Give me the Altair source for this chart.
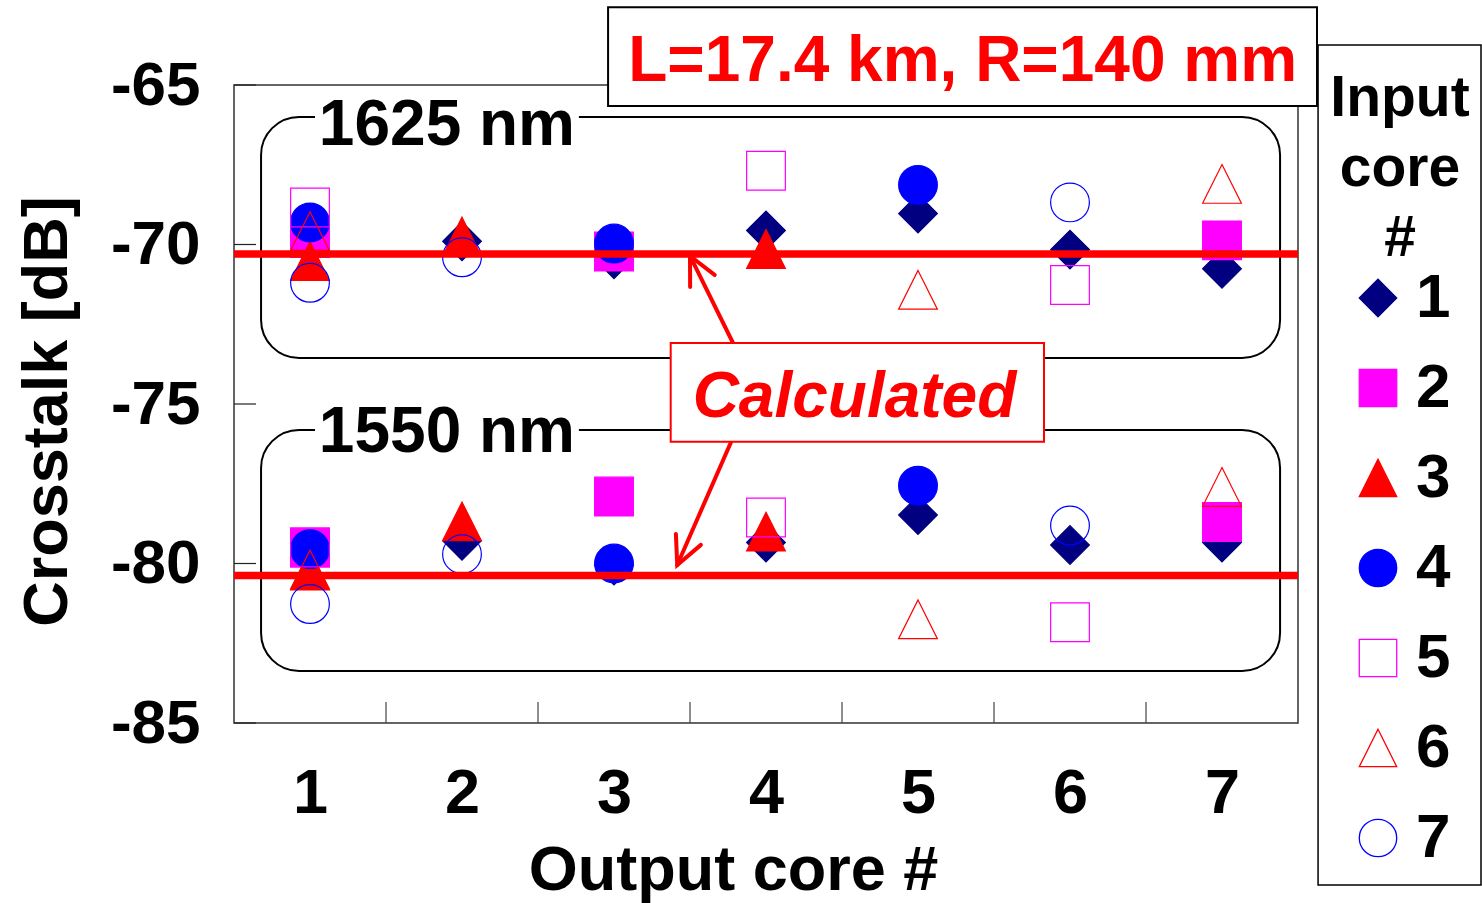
import altair as alt
import pandas as pd

# ---------------- data ----------------
output_cores = [1, 2, 3, 4, 5, 6, 7]
input_labels = ["1", "2", "3", "4", "5", "6", "7"]

# Crosstalk [dB] at 1625 nm, one list per input core, values per output core 1..7
in1_1625 = [None, -69.90, -70.46, -69.56, -69.03, -70.16, -70.76]
in2_1625 = [-69.80, None, -70.22, None, None, None, -69.87]
in3_1625 = [-70.52, -69.75, None, -70.14, None, None, None]
in4_1625 = [-69.31, None, -69.97, None, -68.13, None, None]
in5_1625 = [-68.84, None, None, -67.69, None, -71.27, None]
in6_1625 = [-69.58, None, None, None, -71.42, None, -68.10]
in7_1625 = [-71.20, -70.40, None, None, None, -68.68, None]

# Crosstalk [dB] at 1550 nm
in1_1550 = [None, -79.29, -80.06, -79.34, -78.48, -79.42, -79.34]
in2_1550 = [-79.50, None, -77.90, None, None, None, -78.70]
in3_1550 = [-80.22, -78.68, None, -79.00, None, None, None]
in4_1550 = [-79.55, None, -80.00, None, -77.56, None, None]
in5_1550 = [-79.50, None, None, -78.56, None, -81.84, None]
in6_1550 = [-80.19, None, None, None, -81.75, None, -77.60]
in7_1550 = [-81.27, -79.71, None, None, None, -78.81, None]

# calculated crosstalk levels [dB]
calc_levels = [-70.30, -80.38]

y_tick_values = [-85, -80, -75, -70, -65]
x_boundaries = [1.5, 2.5, 3.5, 4.5, 5.5, 6.5]
legend_title_lines = ["Input", "core", "#"]

# ---------------- build table ----------------
series_1625 = [in1_1625, in2_1625, in3_1625, in4_1625, in5_1625, in6_1625, in7_1625]
series_1550 = [in1_1550, in2_1550, in3_1550, in4_1550, in5_1550, in6_1550, in7_1550]
rows = []
for i, lab in enumerate(input_labels):
    for ser in (series_1625[i], series_1550[i]):
        for oc, v in zip(output_cores, ser):
            if v is not None:
                rows.append({"output": oc, "input": lab, "order": i, "xt": v})
df = pd.DataFrame(rows).sort_values("order", kind="stable")

FONT = "Liberation Sans"
TRI = "M0,-1L1,1L-1,1Z"
shape_range = ["diamond", "square", TRI, "circle", "square", TRI, "circle"]
fill_range = ["#000080", "#FF00FF", "#FF0000", "#0000FF", "transparent", "transparent", "transparent"]
stroke_range = ["#000080", "#FF00FF", "#FF0000", "#0000FF", "#FF00FF", "#FF0000", "#0000FF"]

xscale = alt.Scale(domain=[0.5, 7.5], nice=False, zero=False)
yscale = alt.Scale(domain=[-85, -65], nice=False, zero=False)

xaxis = alt.Axis(values=output_cores, labelExpr="datum.value + ''", ticks=False, domain=False,
                 grid=False, labelFont=FONT, labelFontSize=63, labelFontWeight="bold",
                 labelColor="black", labelPadding=39, labelAngle=0,
                 title="Output core #", titleFont=FONT, titleFontSize=63, titleFontWeight="bold",
                 titleColor="black", titleX=499, titleY=116, titleAlign="center", titleBaseline="top")
yaxis = alt.Axis(values=y_tick_values, labelExpr="datum.value + ''", ticks=False, domain=False,
                 grid=False, labelFont=FONT, labelFontSize=62, labelFontWeight="bold",
                 labelColor="black", labelPadding=34,
                 title="Crosstalk [dB]", titleFont=FONT, titleFontSize=63, titleFontWeight="bold",
                 titleColor="black", titleAngle=270, titleX=-187, titleY=326,
                 titleAlign="center", titleBaseline="middle")

legend = alt.Legend(title=None, orient="none", legendX=1113, legendY=182,
                    labelFont=FONT, labelFontSize=62, labelFontWeight="bold", labelColor="black",
                    labelOffset=7, symbolSize=1400, symbolStrokeWidth=1.3, rowPadding=28,
                    symbolOffset=0, padding=0)


def X(f):
    return alt.X(f, type="quantitative", scale=xscale, axis=xaxis)


def Y(f):
    return alt.Y(f, type="quantitative", scale=yscale, axis=yaxis)


# ---------------- annotation layers ----------------
boxes = pd.DataFrame({"x0": [0.678, 0.678], "x1": [7.382, 7.382],
                      "y0": [-66.003, -75.815], "y1": [-73.558, -83.370]})
box_layer = alt.Chart(boxes).mark_rect(cornerRadius=38, fill="transparent", stroke="black",
                                       strokeWidth=2).encode(
    x=X("x0"), x2="x1", y=Y("y0"), y2="y1")

lab_bg = pd.DataFrame({"x0": [1.033, 1.033], "x1": [2.769, 2.769],
                       "y0": [-65.69, -75.50], "y1": [-66.35, -76.16]})
lab_bg_layer = alt.Chart(lab_bg).mark_rect(fill="white", stroke="white", strokeWidth=0).encode(
    x=X("x0"), x2="x1", y=Y("y0"), y2="y1")

lab_txt = pd.DataFrame({"x": [1.901, 1.901], "y": [-66.88, -76.50], "t": ["1625 nm", "1550 nm"]})
lab_txt_layer = alt.Chart(lab_txt).mark_text(font=FONT, fontSize=64, fontWeight="bold",
                                             color="black", align="center",
                                             baseline="alphabetic").encode(
    x=X("x"), y=Y("y"), text="t:N")

points = alt.Chart(df).mark_point(filled=True, size=1500, strokeWidth=1.2, opacity=1).encode(
    x=X("output"),
    y=Y("xt"),
    shape=alt.Shape("input:N", scale=alt.Scale(domain=input_labels, range=shape_range), legend=legend),
    fill=alt.Fill("input:N", scale=alt.Scale(domain=input_labels, range=fill_range), legend=legend),
    stroke=alt.Stroke("input:N", scale=alt.Scale(domain=input_labels, range=stroke_range), legend=legend),
    order=alt.Order("order:Q"),
)

calc_df = pd.DataFrame({"x0": [0.5, 0.5], "x1": [7.5, 7.5], "y": calc_levels})
calc_layer = alt.Chart(calc_df).mark_rule(color="#FF0000", strokeWidth=7.5).encode(
    x=X("x0"), x2="x1", y=Y("y"))

shaft_df = pd.DataFrame({"x0": [3.783, 3.768], "y0": [-73.088, -76.213],
                         "x1": [3.500, 3.416], "y1": [-70.36, -80.047], "ang": [333.7, 203.6]})
shaft_layer = alt.Chart(shaft_df).mark_rule(color="#FF0000", strokeWidth=4, strokeCap="round").encode(
    x=X("x0"), y=Y("y0"), x2="x1", y2="y1")
head_layer = alt.Chart(shaft_df).mark_point(shape="M-0.44,0.9L0,0L0.44,0.9", filled=False,
                                            color="#FF0000", strokeWidth=4, strokeCap="round",
                                            size=3844, opacity=1).encode(
    x=X("x1"), y=Y("y1"), angle=alt.Angle("ang:Q", scale=None))

calc_box = pd.DataFrame({"x0": [3.373], "x1": [5.829], "y0": [-73.088], "y1": [-76.182]})
calc_box_layer = alt.Chart(calc_box).mark_rect(fill="white", stroke="#FF0000", strokeWidth=2).encode(
    x=X("x0"), x2="x1", y=Y("y0"), y2="y1")
calc_txt = pd.DataFrame({"x": [4.582], "y": [-75.398], "t": ["Calculated"]})
calc_txt_layer = alt.Chart(calc_txt).mark_text(font=FONT, fontSize=64, fontWeight="bold",
                                               fontStyle="italic", color="#FF0000", align="center",
                                               baseline="alphabetic").encode(
    x=X("x"), y=Y("y"), text="t:N")

title_box = pd.DataFrame({"x0": [2.961], "x1": [7.625], "y0": [-62.564], "y1": [-65.658]})
title_box_layer = alt.Chart(title_box).mark_rect(fill="white", stroke="black", strokeWidth=2).encode(
    x=X("x0"), x2="x1", y=Y("y0"), y2="y1")
title_txt = pd.DataFrame({"x": [5.294], "y": [-64.875], "t": ["L=17.4 km, R=140 mm"]})
title_txt_layer = alt.Chart(title_txt).mark_text(font=FONT, fontSize=64, fontWeight="bold",
                                                 color="#FF0000", align="center",
                                                 baseline="alphabetic").encode(
    x=X("x"), y=Y("y"), text="t:N")

legend_box = pd.DataFrame({"x0": [7.632], "x1": [8.704], "y0": [-63.746], "y1": [-90.078]})
legend_box_layer = alt.Chart(legend_box).mark_rect(fill="white", stroke="black", strokeWidth=1.5).encode(
    x=X("x0"), x2="x1", y=Y("y0"), y2="y1")

legend_title = pd.DataFrame({"x": [8.171] * 3, "y": [-65.972, -68.166, -70.361],
                             "t": legend_title_lines})
legend_title_layer = alt.Chart(legend_title).mark_text(font=FONT, fontSize=57, fontWeight="bold",
                                                       color="black", align="center",
                                                       baseline="alphabetic").encode(
    x=X("x"), y=Y("y"), text="t:N")

xt_df = pd.DataFrame({"x": x_boundaries, "y0": [-85] * len(x_boundaries),
                      "y1": [-84.34] * len(x_boundaries)})
xtick_layer = alt.Chart(xt_df).mark_rule(color="#444444", strokeWidth=1.2).encode(
    x=X("x"), y=Y("y0"), y2="y1")
yt_df = pd.DataFrame({"y": y_tick_values, "x0": [0.5] * len(y_tick_values),
                      "x1": [0.645] * len(y_tick_values)})
ytick_layer = alt.Chart(yt_df).mark_rule(color="#222222", strokeWidth=1.2).encode(
    x=X("x0"), x2="x1", y=Y("y"))

chart = alt.layer(
    legend_box_layer, legend_title_layer, xtick_layer, ytick_layer, box_layer, lab_bg_layer,
    lab_txt_layer, points, calc_layer, shaft_layer, head_layer, calc_box_layer, calc_txt_layer,
    title_box_layer, title_txt_layer,
).properties(
    width=1064, height=638,
    padding={"left": 234, "top": 85, "right": 184, "bottom": 180},
    autosize=alt.AutoSizeParams(type="none"),
    background="white",
).configure_view(stroke="#333333", strokeWidth=1.5)

chart.save("out.html", embed_options={"renderer": "svg", "actions": False})
